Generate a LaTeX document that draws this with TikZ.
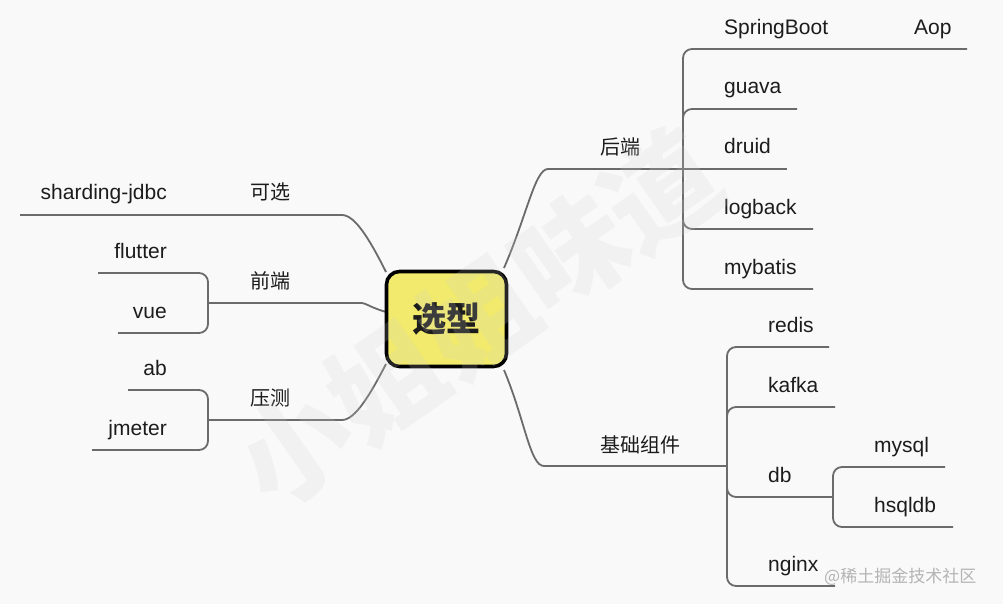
\documentclass[tikz,border=0pt]{standalone}
\usepackage{fontspec}
\setmainfont{Liberation Sans}
\newfontfamily\cjk{Noto Sans CJK SC}
\usetikzlibrary{backgrounds}
\definecolor{bg}{HTML}{F9F9F9}
\definecolor{ln}{HTML}{6B6B6B}
\definecolor{yl}{HTML}{F2EA6C}
\definecolor{tx}{HTML}{1C1C1C}
\definecolor{wm}{HTML}{D0D0D0}
\definecolor{mk}{HTML}{B4B4B4}
\begin{document}
\begin{tikzpicture}[x=1pt,y=-1pt,
  conn/.style={draw=ln, line width=1.8pt, rounded corners=9pt},
  lab/.style={inner sep=0pt, text=tx, font=\fontsize{21}{25}\selectfont},
  clab/.style={inner sep=0pt, text=tx, font=\cjk\fontsize{20}{24}\selectfont},
  rootbox/.style={draw=black, line width=3.6pt, fill=yl, rounded corners=13pt,
    minimum width=120pt, minimum height=95pt, inner sep=0pt,
    font=\cjk\bfseries\fontsize{34}{40}\selectfont, text=tx}
]
\useasboundingbox (0,0) rectangle (1003,604);

% root
\node[rootbox] (root) at (446.5,319) {选型};

% junctions and line ends
\coordinate (rNE) at (504,268);
\coordinate (rSE) at (504,370);
\coordinate (rNW) at (386,272);
\coordinate (rW)  at (386,312);
\coordinate (rSW) at (386,364);

\coordinate (jB) at (683,169);   % 后端
\coordinate (jC) at (727,466);   % 基础组件
\coordinate (jDB) at (833,497);  % db
\coordinate (jF) at (208,303);   % 前端
\coordinate (jY) at (208,420);   % 压测
\coordinate (kxEnd) at (20,215); % 可选

\coordinate (sbEnd) at (967,49);
\coordinate (guEnd) at (797,109);
\coordinate (drEnd) at (787,169);
\coordinate (lbEnd) at (813,229);
\coordinate (mbEnd) at (813,289);

\coordinate (reEnd) at (829,347);
\coordinate (kaEnd) at (835,407);
\coordinate (myEnd) at (945,467);
\coordinate (hsEnd) at (953,527);
\coordinate (ngEnd) at (835,586);

\coordinate (flEnd) at (98,273);
\coordinate (vuEnd) at (118,333);
\coordinate (abEnd) at (128,390);
\coordinate (jmEnd) at (92,450);

\begin{scope}[on background layer]
\fill[bg] (0,0) rectangle (1003,604);
% right main branches
\draw[conn] (rNE) .. controls (527,215) and (535,169) .. (557,169) -- (jB);
\draw[conn] (rSE) .. controls (525,420) and (530,466) .. (553,466) -- (jC);
% left main branches
\draw[conn] (rNW) .. controls (370,240) and (355,215) .. (333,215) -- (kxEnd);
\draw[conn] (rW) .. controls (372,308) and (365,303) .. (353,303) -- (jF);
\draw[conn] (rSW) .. controls (370,395) and (355,420) .. (333,420) -- (jY);
% 后端 children
\draw[conn] (jB) |- (sbEnd);
\draw[conn] (jB) |- (guEnd);
\draw[conn] (jB) -- (drEnd);
\draw[conn] (jB) |- (lbEnd);
\draw[conn] (jB) |- (mbEnd);
% 基础组件 children
\draw[conn] (jC) |- (reEnd);
\draw[conn] (jC) |- (kaEnd);
\draw[conn] (jC) |- (jDB);
\draw[conn] (jC) |- (ngEnd);
\draw[conn] (jDB) |- (myEnd);
\draw[conn] (jDB) |- (hsEnd);
% 前端 / 压测 children
\draw[conn] (jF) |- (flEnd);
\draw[conn] (jF) |- (vuEnd);
\draw[conn] (jY) |- (abEnd);
\draw[conn] (jY) |- (jmEnd);
\end{scope}

% labels right
\node[clab, anchor=base west] (hd) at (600,155) {后端};
\node[lab, anchor=base west] (sb) at (724,35) {SpringBoot};
\node[lab, anchor=base west] (aop) at (914,35) {Aop};
\node[lab, anchor=base west] (gu) at (724,94) {guava};
\node[lab, anchor=base west] (dr) at (724,154) {druid};
\node[lab, anchor=base west] (lb) at (724,214) {logback};
\node[lab, anchor=base west] (mb) at (724,274) {mybatis};

\node[clab, anchor=base west] (jc) at (600,452) {基础组件};
\node[lab, anchor=base west] (re) at (768,332) {redis};
\node[lab, anchor=base west] (ka) at (768,392) {kafka};
\node[lab, anchor=base west] (db) at (768,482) {db};
\node[lab, anchor=base west] (my) at (874,452) {mysql};
\node[lab, anchor=base west] (hs) at (874,512) {hsqldb};
\node[lab, anchor=base west] (ng) at (768,571) {nginx};

% labels left
\node[clab, anchor=base west] (kx) at (250,200) {可选};
\node[lab, anchor=base east] (sj) at (167,200) {sharding-jdbc};
\node[clab, anchor=base west] (qd) at (250,288) {前端};
\node[lab, anchor=base east] (fl) at (167,258) {flutter};
\node[lab, anchor=base east] (vu) at (167,318) {vue};
\node[clab, anchor=base west] (yc) at (250,405) {压测};
\node[lab, anchor=base east] (ab) at (167,375) {ab};
\node[lab, anchor=base east] (jm) at (167,435) {jmeter};

% watermarks
\node[rotate=35, inner sep=0pt, text=wm, opacity=0.18,
  font=\cjk\bfseries\fontsize{112}{112}\selectfont] (wm1) at (478,318) {小姐姐味道};
\node[anchor=base west, inner sep=0pt, text=mk,
  font=\cjk\fontsize{17}{20}\selectfont] (wm2) at (824,582) {@稀土掘金技术社区};
\end{tikzpicture}
\end{document}
